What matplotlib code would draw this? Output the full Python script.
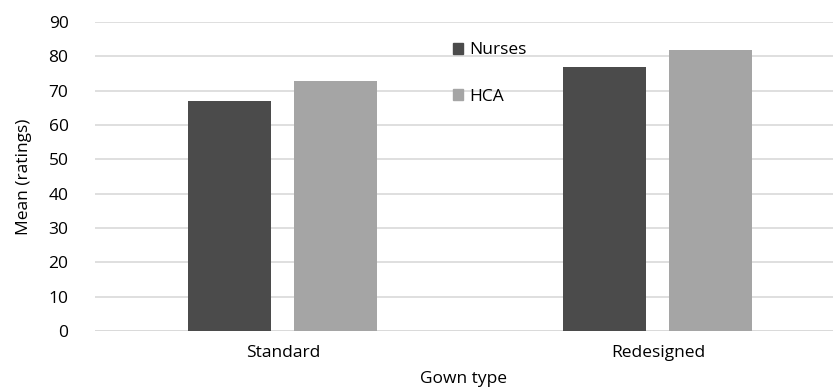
import numpy as np
import matplotlib.pyplot as plt
from matplotlib.patches import Patch

categories = ["Standard", "Redesigned"]
nurses = [67, 77]
hca = [72.7, 81.8]
series_names = ["Nurses", "HCA"]
colors = ["#4b4b4b", "#a5a5a5"]

plt.rcParams["font.family"] = ["Open Sans", "DejaVu Sans"]

fig = plt.figure(figsize=(8.33, 3.92), dpi=100)
ax = fig.add_axes([95 / 833, 61 / 392, 738 / 833, 309 / 392])

x = np.arange(len(categories))
w = 0.221
ax.bar(x - 0.142, nurses, w, color=colors[0], zorder=3)
ax.bar(x + 0.141, hca, w, color=colors[1], zorder=3)

ax.set_xlim(-0.5013, 1.4667)
ax.set_ylim(0, 90)
ax.set_yticks(range(0, 91, 10))
ax.yaxis.grid(True, color="#d9d9d9", linewidth=1.2, zorder=0)
for s in ax.spines.values():
    s.set_visible(False)
ax.axhline(0, color="#d9d9d9", linewidth=1.2, zorder=1)
ax.tick_params(axis="both", length=0, labelsize=12.5, colors="#000000")
ax.tick_params(axis="y", pad=19)
ax.tick_params(axis="x", pad=10)
ax.set_xticks(x)
ax.set_xticklabels(categories)
ax.set_ylabel("Mean (ratings)", fontsize=12.5, labelpad=12)
ax.set_xlabel("Gown type", fontsize=12.5, labelpad=7)

handles = [Patch(color=c) for c in colors]
ax.legend(handles, series_names, loc="upper left", bbox_to_anchor=(0.464, 0.985),
          frameon=False, fontsize=12.5, handlelength=0.6, handleheight=0.6,
          handletextpad=0.35, labelspacing=1.75)

fig.savefig("out.png", dpi=100)
